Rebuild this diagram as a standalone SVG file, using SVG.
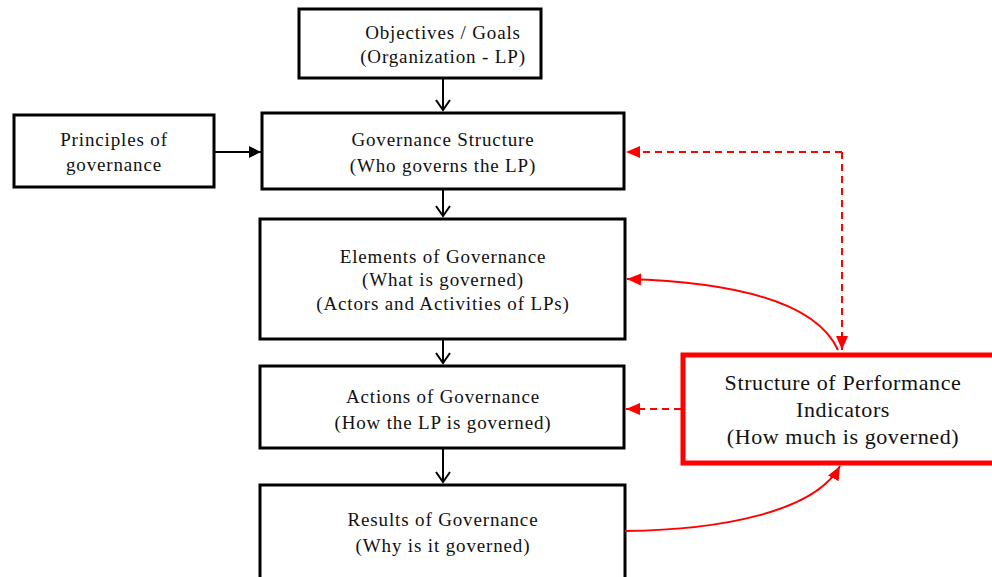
<svg xmlns="http://www.w3.org/2000/svg" width="992" height="577" viewBox="0 0 992 577">
<style>
.box{fill:#fff;stroke:#000;stroke-width:3}
.red{fill:#fff;stroke:#ff0000;stroke-width:5}
text{font-family:"Liberation Serif","Times New Roman",serif;font-size:19px;letter-spacing:0.85px;fill:#111;text-anchor:middle}
.big{font-size:22px;letter-spacing:0.6px}
.blk{stroke:#000;stroke-width:2;fill:none}
.rs{stroke:#ff0000;stroke-width:2;fill:none}
.rd{stroke:#ff0000;stroke-width:2;fill:none;stroke-dasharray:7 5}
</style>
<defs>
<marker id="open" markerWidth="16" markerHeight="16" refX="12" refY="8" orient="auto" markerUnits="userSpaceOnUse">
<path d="M2,1 L12,8 L2,15" fill="none" stroke="#000" stroke-width="2"/>
</marker>
<marker id="fill" markerWidth="14" markerHeight="14" refX="12" refY="7" orient="auto" markerUnits="userSpaceOnUse">
<path d="M0,1 L12,7 L0,13 Z" fill="#000"/>
</marker>
<marker id="redh" markerWidth="16" markerHeight="16" refX="14" refY="7" orient="auto" markerUnits="userSpaceOnUse">
<path d="M0,1 L14,7 L0,13 Z" fill="#ff0000"/>
</marker>
</defs>
<g id="objectives"><rect class="box" x="299" y="9" width="242" height="69"/><text x="443" y="39">Objectives / Goals</text><text x="443" y="63">(Organization - LP)</text></g>
<g id="principles"><rect class="box" x="14" y="115" width="200" height="72"/><text x="114" y="146">Principles of</text><text x="114" y="171">governance</text></g>
<g id="structure"><rect class="box" x="262" y="113" width="362" height="76"/><text x="443" y="146">Governance Structure</text><text x="443" y="172">(Who governs the LP)</text></g>
<g id="elements"><rect class="box" x="260" y="219" width="365" height="120"/><text x="443" y="263">Elements of Governance</text><text x="443" y="286">(What is governed)</text><text x="443" y="310">(Actors and Activities of LPs)</text></g>
<g id="actions"><rect class="box" x="260" y="366" width="364" height="82"/><text x="443" y="403">Actions of Governance</text><text x="443" y="429">(How the LP is governed)</text></g>
<g id="results"><rect class="box" x="260" y="485" width="365" height="95"/><text x="443" y="526">Results of Governance</text><text x="443" y="552">(Why is it governed)</text></g>
<g id="indicators"><rect class="red" x="683" y="355" width="315" height="108"/><text class="big" x="843" y="390">Structure of Performance</text><text class="big" x="843" y="417">Indicators</text><text class="big" x="843" y="444">(How much is governed)</text></g>
<g id="connectors">
<path class="blk" d="M443,78 V110" marker-end="url(#open)"/>
<path class="blk" d="M443,189 V216" marker-end="url(#open)"/>
<path class="blk" d="M443,339 V363" marker-end="url(#open)"/>
<path class="blk" d="M443,448 V482" marker-end="url(#open)"/>
<path class="blk" d="M214,152 H261" marker-end="url(#fill)"/>
<path class="rd" d="M842,152 V350"  marker-end="url(#redh)"/>
<path class="rd" d="M842,152 H626" marker-end="url(#redh)"/>
<path class="rs" d="M838,350 C815,300 730,282 627,279" marker-end="url(#redh)"/>
<path class="rd" d="M681,409 H626" marker-end="url(#redh)"/>
<path class="rs" d="M625,531 C720,530 815,512 840,466" marker-end="url(#redh)"/>
</g>
</svg>
